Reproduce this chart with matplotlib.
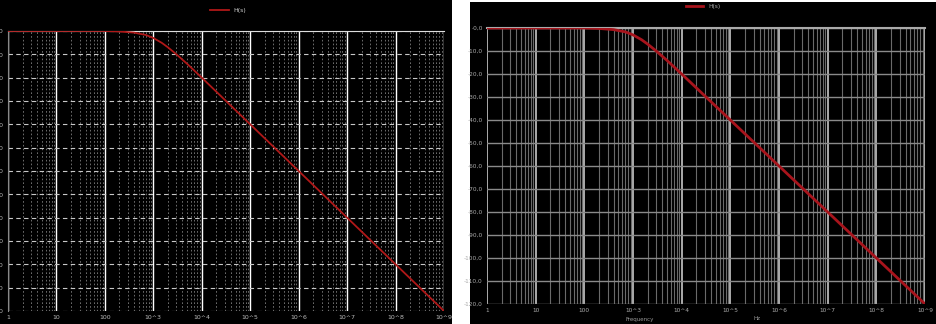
import matplotlib
matplotlib.use("Agg")
import matplotlib.pyplot as plt
import numpy as np

# Bode magnitude
freq = [1, 10, 100, 200, 400, 700, 1000, 1500, 2000, 3000, 5000,
        1e4, 1e5, 1e6, 1e7, 1e8, 1e9]
mag_db = [0.0, 0.0, 0.0, -0.2, -0.7, -1.7, -3.0, -5.1, -7.0, -10.0, -14.1,
          -20.0, -40.0, -60.0, -80.0, -100.0, -120.0]

x_ticks = [1, 10, 100, 1e3, 1e4, 1e5, 1e6, 1e7, 1e8, 1e9]
x_labels = ["1", "10", "100", "10^3", "10^4", "10^5", "10^6", "10^7", "10^8", "10^9"]
y_ticks = list(range(0, -130, -10))
y_labels_left = ["%d,0" % v for v in y_ticks]
y_labels_right = ["-%d,0" % abs(v) for v in y_ticks]
legend_name = "H(s)"

W, H = 936, 324
fig = plt.figure(figsize=(W / 100, H / 100), dpi=100, facecolor="white")


def px(x0, y0, x1, y1):
    # pixel box (top-left origin) -> figure coords
    return [x0 / W, 1 - y1 / H, (x1 - x0) / W, (y1 - y0) / H]


# black screenshot backgrounds
for box in (px(0, 0, 452, 324), px(470, 2, 936, 324)):
    bg = fig.add_axes(box)
    bg.set_facecolor("black")
    bg.set_xticks([])
    bg.set_yticks([])
    for s in bg.spines.values():
        s.set_visible(False)

minor = [m * 10 ** d for d in range(0, 9) for m in range(2, 10)]

# ---- left screenshot ----
ax1 = fig.add_axes(px(8, 31, 444, 311))
ax1.set_facecolor("black")
ax1.set_xscale("log")
ax1.set_xlim(1, 1e9)
ax1.set_ylim(-120, 0)
for m in minor:
    ax1.axvline(m, color="#7e7e7e", lw=0.6, ls=(0, (2, 2.5)), zorder=1)
for t in x_ticks:
    ax1.axvline(t, color="white", lw=1.0, zorder=2)
for v in y_ticks:
    ax1.axhline(v, color="#c8c8c8", lw=0.8, ls=(0, (4, 3)), zorder=2)
ax1.plot(freq, mag_db, color="#b01818", lw=1.3, zorder=5, label=legend_name)
ax1.set_xticks(x_ticks)
ax1.set_xticklabels(x_labels)
ax1.set_xticks([], minor=True)
ax1.set_yticks(y_ticks)
ax1.set_yticklabels(y_labels_left)
ax1.tick_params(colors="#bbbbbb", labelsize=4.5, length=0, pad=3)
for s in ax1.spines.values():
    s.set_visible(False)
ax1.spines["top"].set_visible(True)
ax1.spines["top"].set_color("#dddddd")
ax1.spines["left"].set_visible(True)
ax1.spines["left"].set_color("#888888")
ax1.legend(loc="center", bbox_to_anchor=(228 / W, 1 - 10 / H),
           bbox_transform=fig.transFigure, frameon=False, fontsize=4.5,
           labelcolor="#cccccc", handlelength=3)

# ---- right screenshot ----
ax2 = fig.add_axes(px(487, 28, 925, 304))
ax2.set_facecolor("black")
ax2.set_xscale("log")
ax2.set_xlim(1, 1e9)
ax2.set_ylim(-120, 0)
for m in minor:
    ax2.axvline(m, color="#6a6a6a", lw=0.8, zorder=1)
for t in x_ticks:
    ax2.axvline(t, color="#c8c8c8", lw=1.2, zorder=2)
for v in y_ticks:
    ax2.axhline(v, color="#8a8a8a", lw=1.0, zorder=2)
ax2.plot(freq, mag_db, color="#a8141c", lw=2.0, zorder=5, label=legend_name)
ax2.set_xticks(x_ticks)
ax2.set_xticklabels(x_labels)
ax2.set_xticks([], minor=True)
ax2.set_yticks(y_ticks)
ax2.set_yticklabels(y_labels_right)
ax2.tick_params(colors="#aaaaaa", labelsize=4.2, length=0, pad=3)
for s in ax2.spines.values():
    s.set_visible(False)
ax2.spines["top"].set_visible(True)
ax2.spines["top"].set_color("#aaaaaa")
ax2.spines["top"].set_linewidth(1.5)
ax2.legend(loc="center", bbox_to_anchor=(703 / W, 1 - 6 / H),
           bbox_transform=fig.transFigure, frameon=False, fontsize=4.2,
           labelcolor="#aaaaaa", handlelength=3)
fig.text(640 / W, 1 - 320 / H, "Frequency", color="#999999", fontsize=4,
         ha="center", va="center")
fig.text(757 / W, 1 - 318 / H, "Hz", color="#999999", fontsize=4,
         ha="center", va="center")

fig.savefig("out.png", dpi=100, facecolor="white")
